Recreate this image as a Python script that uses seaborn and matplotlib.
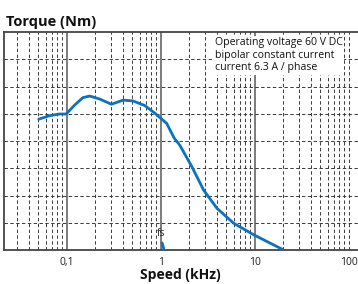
import numpy as np
import pandas as pd
import matplotlib
matplotlib.use("Agg")
import matplotlib.pyplot as plt
import seaborn as sns

# speed (kHz) and torque (Nm)
speed = [0.0506, 0.066, 0.084, 0.099, 0.122, 0.149, 0.176, 0.225, 0.30, 0.40,
         0.51, 0.68, 0.87, 1.0, 1.16, 1.40, 1.60, 2.15, 2.87, 3.98, 6.0, 9.9, 19.9]
torque = [4.80, 4.93, 4.99, 4.99, 5.32, 5.59, 5.65, 5.54, 5.35, 5.50,
          5.47, 5.30, 5.02, 4.84, 4.65, 4.10, 3.85, 3.06, 2.20, 1.53, 0.98, 0.55, 0.02]

# short start/stop stub at fs
fs_speed = [1.04, 1.09]
fs_torque = [0.26, 0.0]

major_ticks = [0.1, 1, 10, 100]
major_labels = ["0,1", "1", "10", "100"]
note = "Operating voltage 60 V DC\nbipolar constant current\ncurrent 6.3 A / phase"

sns.set_style("white")
plt.rcParams['font.family'] = ['Open Sans', 'DejaVu Sans']

W, H = 358, 284
fig = plt.figure(figsize=(W / 100, H / 100), dpi=100)
ax = fig.add_axes([4 / W, 1 - 250 / H, 354 / W, 218 / H])

df = pd.DataFrame({"speed": speed, "torque": torque})
fs_df = pd.DataFrame({"speed": fs_speed, "torque": fs_torque})
blue = "#0a72c0"
sns.lineplot(data=df, x="speed", y="torque", ax=ax, color=blue, lw=2.0, zorder=5)
sns.lineplot(data=fs_df, x="speed", y="torque", ax=ax, color=blue, lw=2.0, zorder=5)

ax.set_xscale("log")
ax.set_xlim(0.0216, 126)
ax.set_ylim(0, 8)

grid_c = "#3a3a3a"
dash = (0, (3.5, 2.5))
# dashed minor verticals
for dec in [0.01, 0.1, 1, 10, 100]:
    for k in range(2, 10):
        v = dec * k
        if 0.0216 < v < 126:
            ax.axvline(v, color=grid_c, lw=0.7, ls=dash, zorder=1)
for v in [0.1, 1, 10]:
    ax.axvline(v, color="#666666", lw=1.2, zorder=1)
ax.axvline(100, color=grid_c, lw=0.7, ls=dash, zorder=1)
for t in range(1, 8):
    ax.axhline(t, color=grid_c, lw=0.7, ls=dash, zorder=1)

ax.set_xticks(major_ticks)
ax.set_xticklabels(major_labels)
ax.xaxis.set_minor_locator(matplotlib.ticker.NullLocator())
ax.set_yticks([])
ax.tick_params(axis="x", length=0, labelsize=7.5, pad=5, colors="#222222")
ax.set_xlabel("")
ax.set_ylabel("")

for s in ["left", "bottom", "top"]:
    ax.spines[s].set_color("#444444")
    ax.spines[s].set_linewidth(1.3)
ax.spines["right"].set_visible(False)

fig.text(6 / W, 1 - 22 / H, "Torque (Nm)", fontsize=10.5, fontweight="bold",
         va="center", ha="left", color="#111111")
fig.text(180 / W, 1 - 275 / H, "Speed (kHz)", fontsize=10, fontweight="bold",
         va="center", ha="center", color="#111111")
ax.text(215 / W, 1 - 37 / H, note, transform=fig.transFigure, fontsize=7.6,
        va="top", ha="left", color="#111111", linespacing=1.2,
        bbox=dict(facecolor="white", edgecolor="none", pad=1.0), zorder=10)
ax.text(1.01, 0.6, "fs", fontsize=7.5, ha="center", va="center", color="#222222",
        zorder=6)

fig.savefig("out.png", dpi=100)
